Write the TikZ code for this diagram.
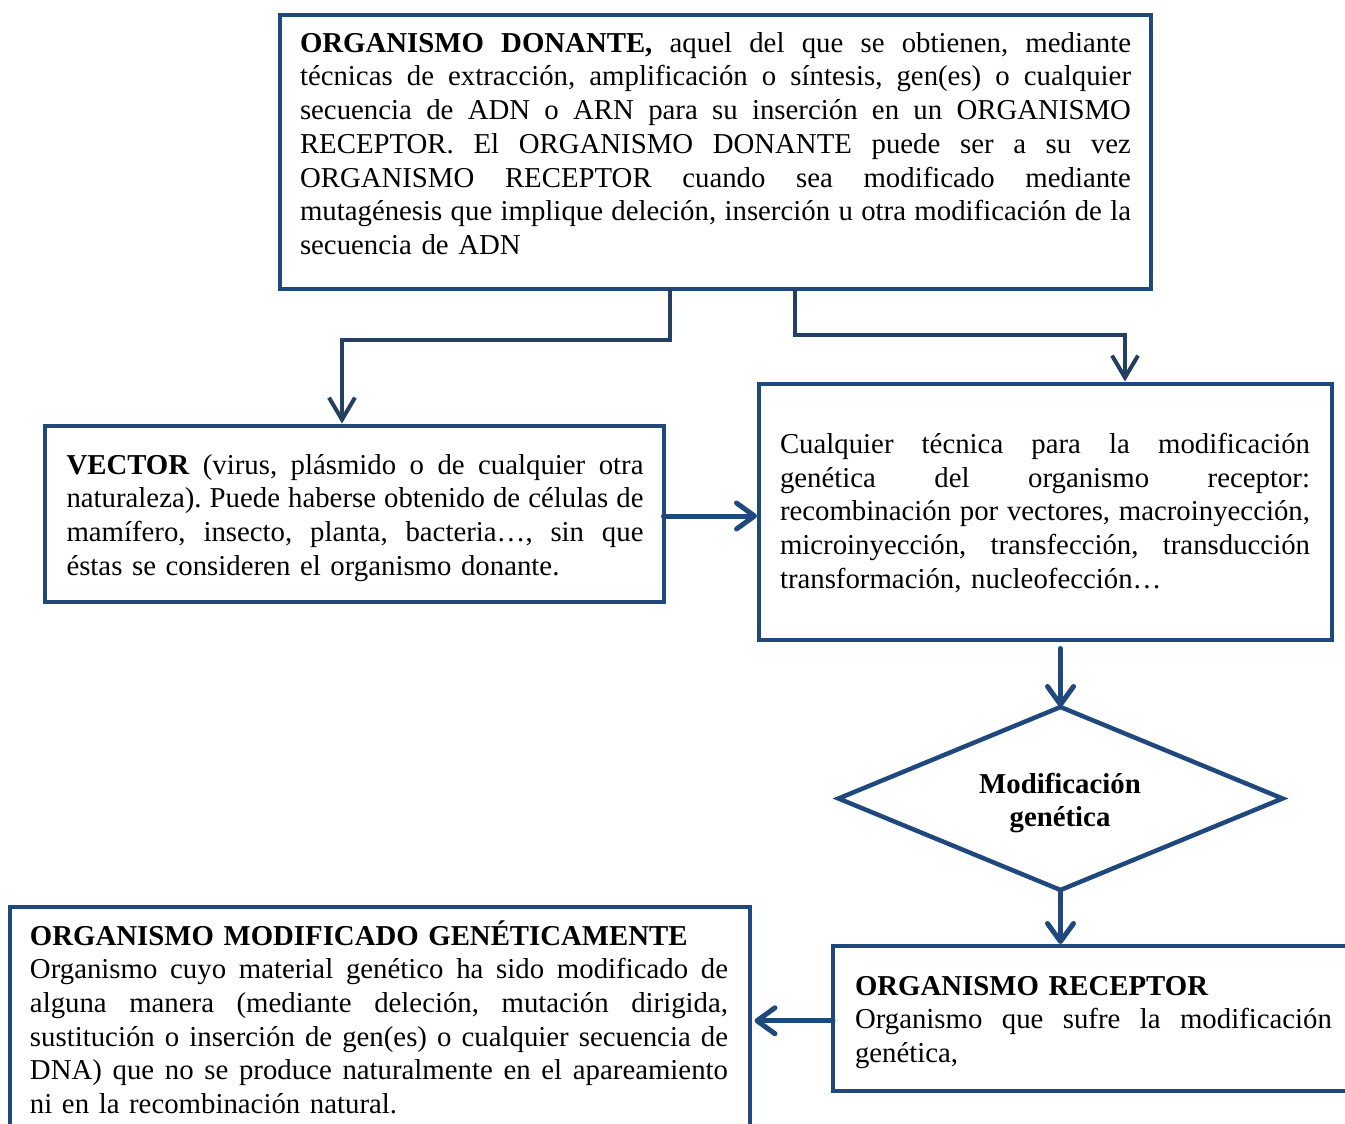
\documentclass[tikz,border=0pt]{standalone}
\usepackage{fontspec}
\setmainfont{Liberation Serif}
\usetikzlibrary{arrows.meta,shapes.geometric,calc}

\definecolor{boxblue}{RGB}{31,73,125}
\definecolor{linkblue}{RGB}{36,63,96}

\newcommand{\jline}[1]{\leavevmode\hbox to \hsize{\spaceskip=0.25em plus 0.8em minus 0.08em\relax #1}\\}

\begin{document}
\begin{tikzpicture}[x=1pt,y=-1pt,
  boxshape/.style={draw=boxblue,line width=4pt,rectangle,inner sep=0pt,outer sep=0pt,anchor=north west},
  txt/.style={anchor=base west,inner sep=0pt,outer sep=0pt,font=\fontsize{28.8}{33.7}\selectfont\frenchspacing},
  link/.style={draw=linkblue,line width=4pt,-{Straight Barb[length=22pt,width=26pt]}},
  arr/.style={draw=boxblue,line width=5pt,line cap=round,-{Straight Barb[length=18pt,width=26pt,round]}}
]
\useasboundingbox (0,0) rectangle (1345,1124);
\clip (0,0) rectangle (1345,1124);
\fill[white] (0,0) rectangle (1345,1124);

% boxes
\node[boxshape,minimum width=871pt,minimum height=274pt] (top) at (280,15) {};
\node[boxshape,minimum width=618.5pt,minimum height=176pt] (vec) at (45,425.5) {};
\node[boxshape,minimum width=573pt,minimum height=256pt] (tec) at (759,383.5) {};
\node[draw=boxblue,line width=4.5pt,diamond,inner sep=0pt,outer sep=0pt,minimum width=444pt,minimum height=183pt] (dia) at (1060.5,798.5) {};
\node[boxshape,minimum width=540pt,minimum height=144.5pt] (rec) at (833,946) {};
\node[boxshape,minimum width=739.5pt,minimum height=250pt] (mod) at (10,907) {};

% texts
\node[txt,text width=831pt] (toptext) at (300,52.3) {%
\jline{\textbf{ORGANISMO DONANTE,} aquel del que se obtienen, mediante}
\jline{técnicas de extracción, amplificación o síntesis, gen(es) o cualquier}
\jline{secuencia de ADN o ARN para su inserción en un ORGANISMO}
\jline{RECEPTOR. El ORGANISMO DONANTE puede ser a su vez}
\jline{ORGANISMO RECEPTOR cuando sea modificado mediante}
\jline{mutagénesis que implique deleción, inserción u otra modificación de la}
secuencia de ADN};

\node[txt,text width=577pt] (vectext) at (66.5,474) {%
\jline{\textbf{VECTOR} (virus, plásmido o de cualquier otra}
\jline{naturaleza). Puede haberse obtenido de células de}
\jline{mamífero, insecto, planta, bacteria…, sin que}
éstas se consideren el organismo donante.};

\node[txt,text width=530pt] (tectext) at (780,453.5) {%
\jline{Cualquier técnica para la modificación}
\jline{genética del organismo receptor:}
\jline{recombinación por vectores, macroinyección,}
\jline{microinyección, transfección, transducción}
transformación, nucleofección…};

\node[txt,anchor=base,text width=300pt,align=center] (diatext) at (1060,793) {%
\textbf{Modificación}\\\textbf{genética}};

\node[txt,text width=477pt] (rectext) at (855,995) {%
\textbf{ORGANISMO RECEPTOR}\\
\jline{Organismo que sufre la modificación}
genética,};

\node[txt,text width=698pt] (modtext) at (30,945) {%
\textbf{ORGANISMO MODIFICADO GENÉTICAMENTE}\\
\jline{Organismo cuyo material genético ha sido modificado de}
\jline{alguna manera (mediante deleción, mutación dirigida,}
\jline{sustitución o inserción de gen(es) o cualquier secuencia de}
\jline{DNA) que no se produce naturalmente en el apareamiento}
ni en la recombinación natural.};

% connector x positions
\coordinate (ka) at (670,0);
\coordinate (kb) at (342,0);
\coordinate (kc) at (795,0);
\coordinate (kd) at (1125,0);

\draw[link,shorten >=2pt] (top.south -| ka) -- ++(0,51) -| (vec.north -| kb);
\draw[link,shorten >=2pt] (top.south -| kc) -- ++(0,46) -| (tec.north -| kd);

\draw[arr,shorten >=2pt] ([yshift=-2.5pt]vec.east) -- ([yshift=-2.5pt]vec.east -| tec.west);
\draw[arr] (tec.south -| dia.north) ++(0,9) -- (dia.north);
\draw[arr,shorten >=2pt] (dia.south) -- (dia.south |- rec.north);
\draw[arr,shorten >=5pt] ([yshift=-2.5pt]rec.west) -- ([yshift=-2.5pt]rec.west -| mod.east);
\end{tikzpicture}
\end{document}
